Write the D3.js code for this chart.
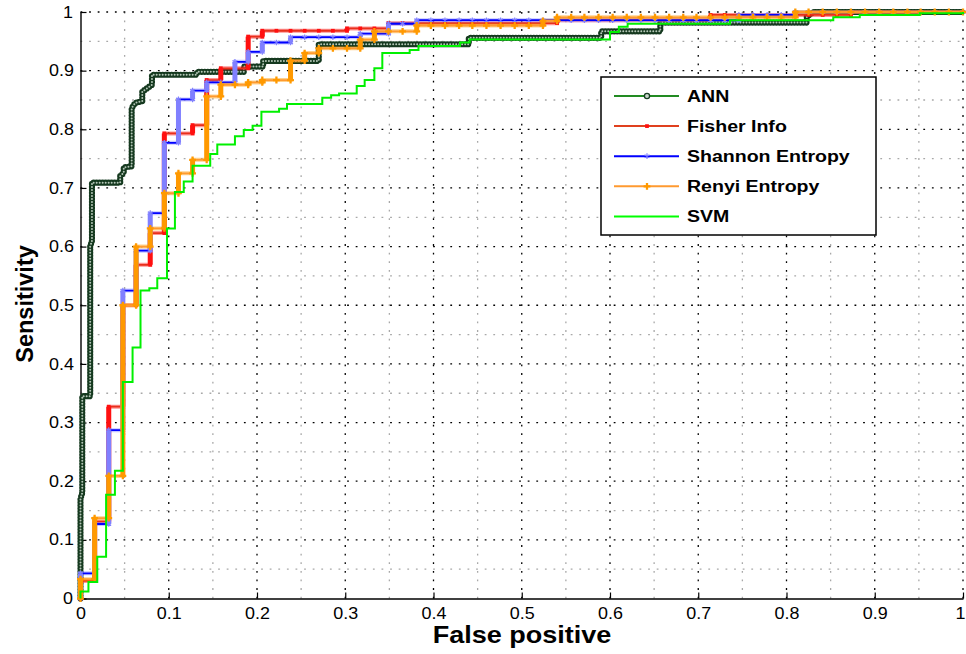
<!DOCTYPE html>
<meta charset="utf-8">
<head>
    <title>ROC curves</title>
    <style>
        body { margin: 0; background: #fff; }
        svg text { font-family: "Liberation Sans", Arial, sans-serif; }
        .sx { transform-box: fill-box; transform-origin: center; transform: scaleX(1.12); }
    </style>
</head>
<body>
<svg width="966" height="654"></svg>
<script src="https://d3js.org/d3.v7.min.js"></script>
<script>

    //axis ticks
    var xTicks = [0, 0.1, 0.2, 0.3, 0.4, 0.5, 0.6, 0.7, 0.8, 0.9, 1];
    var yTicks = [0, 0.1, 0.2, 0.3, 0.4, 0.5, 0.6, 0.7, 0.8, 0.9, 1];
    var minorTicks = [0.05, 0.15, 0.25, 0.35, 0.45, 0.55, 0.65, 0.75, 0.85, 0.95];

    var seriesNames = ["ANN", "Fisher Info", "Shannon Entropy", "Renyi Entropy", "SVM"];

    //ROC points [false positive, sensitivity]
    var ann = [[0,0],[0,0.17],[0.002,0.18],[0.002,0.345],[0.011,0.345],[0.011,0.6],[0.013,0.61],[0.013,0.709],
        [0.045,0.709],[0.045,0.72],[0.049,0.726],[0.049,0.735],[0.058,0.737],[0.058,0.836],[0.062,0.845],
        [0.07,0.848],[0.07,0.864],[0.081,0.876],[0.081,0.893],[0.132,0.893],[0.132,0.898],[0.185,0.898],
        [0.185,0.907],[0.207,0.907],[0.207,0.9165],[0.27,0.9165],[0.27,0.945],[0.44,0.945],[0.44,0.956],
        [0.59,0.956],[0.59,0.967],[0.657,0.967],[0.657,0.982],[0.823,0.982],[0.823,0.992],[0.83,1],[1,1]];

    var fisher = [[0,0],[0,0.03],[0.016,0.03],[0.016,0.131],[0.032,0.131],[0.032,0.327],[0.048,0.327],[0.048,0.5],
        [0.063,0.5],[0.063,0.569],[0.079,0.569],[0.079,0.623],[0.095,0.623],[0.095,0.793],[0.111,0.793],[0.127,0.793],
        [0.127,0.807],[0.143,0.807],[0.143,0.884],[0.159,0.884],[0.159,0.904],[0.175,0.904],[0.19,0.904],[0.19,0.958],
        [0.206,0.958],[0.206,0.968],[0.222,0.968],[0.238,0.968],[0.254,0.968],[0.27,0.968],[0.286,0.968],[0.302,0.968],
        [0.302,0.972],[0.317,0.972],[0.333,0.972],[0.349,0.972],[0.349,0.981],[0.365,0.981],[0.381,0.981],[0.397,0.981],
        [0.413,0.981],[0.429,0.981],[0.444,0.981],[0.46,0.981],[0.476,0.981],[0.492,0.981],[0.508,0.981],[0.524,0.981],
        [0.54,0.981],[0.54,0.986],[0.556,0.986],[0.571,0.986],[0.587,0.986],[0.603,0.986],[0.619,0.986],[0.635,0.986],
        [0.651,0.986],[0.667,0.986],[0.683,0.986],[0.698,0.986],[0.714,0.986],[0.714,0.995],[0.73,0.995],[0.746,0.995],
        [0.762,0.995],[0.778,0.995],[0.794,0.995],[0.81,0.995],[0.825,0.995],[0.841,0.995],[0.857,0.995],[0.873,0.995],
        [0.873,1],[0.889,1],[0.905,1],[0.921,1],[0.937,1],[0.952,1],[0.968,1],[0.984,1],[1,1]];

    var shannon = [[0,0],[0,0.043],[0.016,0.043],[0.016,0.127],[0.032,0.127],[0.032,0.287],[0.048,0.287],[0.048,0.525],
        [0.063,0.525],[0.063,0.593],[0.079,0.593],[0.079,0.657],[0.095,0.657],[0.095,0.777],[0.111,0.777],[0.111,0.851],
        [0.127,0.851],[0.127,0.866],[0.143,0.866],[0.143,0.88],[0.159,0.88],[0.175,0.88],[0.175,0.915],[0.19,0.915],
        [0.19,0.932],[0.206,0.932],[0.206,0.948],[0.222,0.948],[0.238,0.948],[0.238,0.957],[0.254,0.957],[0.27,0.957],
        [0.286,0.957],[0.302,0.957],[0.317,0.957],[0.317,0.963],[0.333,0.963],[0.349,0.963],[0.349,0.98],[0.365,0.98],
        [0.381,0.98],[0.381,0.986],[0.397,0.986],[0.413,0.986],[0.429,0.986],[0.444,0.986],[0.46,0.986],[0.476,0.986],
        [0.492,0.986],[0.508,0.986],[0.524,0.986],[0.54,0.986],[0.556,0.986],[0.571,0.986],[0.587,0.986],[0.603,0.986],
        [0.619,0.986],[0.635,0.986],[0.651,0.986],[0.667,0.986],[0.683,0.986],[0.698,0.986],[0.714,0.986],[0.73,0.986],
        [0.746,0.986],[0.746,0.995],[0.762,0.995],[0.778,0.995],[0.794,0.995],[0.81,0.995],[0.81,1],[0.825,1],
        [0.841,1],[0.857,1],[0.873,1],[0.889,1],[0.905,1],[0.921,1],[0.937,1],[0.952,1],[0.968,1],[0.984,1],[1,1]];

    var renyi = [[0,0],[0,0.033],[0.016,0.033],[0.016,0.137],[0.032,0.137],[0.032,0.209],[0.048,0.209],[0.048,0.5],
        [0.063,0.5],[0.063,0.6],[0.079,0.6],[0.079,0.631],[0.095,0.631],[0.095,0.691],[0.111,0.691],[0.111,0.725],
        [0.127,0.725],[0.127,0.748],[0.143,0.748],[0.143,0.856],[0.159,0.856],[0.159,0.876],[0.175,0.876],[0.19,0.876],
        [0.19,0.88],[0.206,0.88],[0.206,0.884],[0.222,0.884],[0.238,0.884],[0.238,0.917],[0.254,0.917],[0.254,0.93],
        [0.27,0.93],[0.27,0.938],[0.286,0.938],[0.302,0.938],[0.317,0.938],[0.317,0.953],[0.333,0.953],[0.333,0.967],
        [0.349,0.967],[0.365,0.967],[0.381,0.967],[0.381,0.977],[0.397,0.977],[0.413,0.977],[0.429,0.977],[0.444,0.977],
        [0.46,0.977],[0.476,0.977],[0.492,0.977],[0.508,0.977],[0.524,0.977],[0.524,0.985],[0.54,0.985],[0.54,0.991],
        [0.556,0.991],[0.571,0.991],[0.587,0.991],[0.603,0.991],[0.619,0.991],[0.635,0.991],[0.651,0.991],[0.667,0.991],
        [0.683,0.991],[0.698,0.991],[0.714,0.991],[0.73,0.991],[0.746,0.991],[0.762,0.991],[0.778,0.991],[0.794,0.991],
        [0.81,0.991],[0.81,1],[0.825,1],[0.841,1],[0.857,1],[0.873,1],[0.889,1],[0.905,1],[0.921,1],[0.937,1],
        [0.952,1],[0.968,1],[0.984,1],[1,1]];

    var svm = [[0,0],[0,0.012],[0.009,0.012],[0.009,0.028],[0.019,0.028],[0.019,0.071],[0.029,0.071],[0.029,0.177],
        [0.039,0.177],[0.039,0.218],[0.048,0.218],[0.048,0.369],[0.059,0.369],[0.059,0.428],[0.068,0.428],[0.068,0.525],
        [0.078,0.525],[0.078,0.529],[0.087,0.529],[0.087,0.546],[0.098,0.546],[0.098,0.631],[0.107,0.631],[0.107,0.693],
        [0.117,0.693],[0.117,0.711],[0.127,0.711],[0.127,0.738],[0.147,0.738],[0.147,0.758],[0.155,0.758],[0.155,0.774],
        [0.175,0.774],[0.175,0.788],[0.185,0.788],[0.185,0.799],[0.195,0.799],[0.195,0.806],[0.205,0.806],[0.205,0.83],
        [0.225,0.83],[0.225,0.835],[0.234,0.835],[0.234,0.843],[0.274,0.843],[0.274,0.854],[0.284,0.854],[0.284,0.858],
        [0.293,0.858],[0.293,0.861],[0.313,0.861],[0.313,0.874],[0.322,0.874],[0.322,0.884],[0.333,0.884],[0.333,0.904],
        [0.342,0.904],[0.342,0.93],[0.373,0.93],[0.373,0.935],[0.383,0.935],[0.383,0.942],[0.43,0.942],[0.43,0.948],
        [0.441,0.948],[0.441,0.953],[0.6,0.953],[0.6,0.966],[0.61,0.966],[0.61,0.975],[0.62,0.975],[0.62,0.98],
        [0.736,0.98],[0.736,0.986],[0.853,0.986],[0.853,0.991],[0.883,0.991],[0.883,0.995],[0.951,0.995],[0.951,0.998],
        [1,0.998],[1,1]];

    var svg = d3.select("svg"),
            width = +svg.attr("width"),
            height = +svg.attr("height");

    var x = d3.scaleLinear().domain([0, 1]).range([80.5, 963]);
    var y = d3.scaleLinear().domain([0, 1]).range([598.5, 12]);

    //dotted grid, grey minor then black major
    var grid = svg.append("g");
    function vgrid(vals, col) {
        grid.append("g").selectAll("line").data(vals).enter().append("line")
                .attr("x1", function(d) { return x(d); }).attr("x2", function(d) { return x(d); })
                .attr("y1", y(0)).attr("y2", y(1))
                .attr("stroke", col).attr("stroke-width", 1.3).attr("stroke-dasharray", "1.8 6.8");
    }
    function hgrid(vals, col) {
        grid.append("g").selectAll("line").data(vals).enter().append("line")
                .attr("y1", function(d) { return y(d); }).attr("y2", function(d) { return y(d); })
                .attr("x1", x(0)).attr("x2", x(1))
                .attr("stroke", col).attr("stroke-width", 1.3).attr("stroke-dasharray", "1.8 6.8");
    }
    vgrid(minorTicks, "#a8a8a8");
    hgrid(minorTicks, "#a8a8a8");
    vgrid(xTicks.slice(1), "#000");
    hgrid(yTicks.slice(1), "#000");

    //axes
    var fmt = d3.format("~g");
    var xAxis = svg.append("g")
            .attr("transform", "translate(0," + y(0) + ")")
            .call(d3.axisBottom(x).tickValues(xTicks).tickFormat(fmt)
                    .tickSize(-6).tickSizeOuter(0).tickPadding(9));
    var yAxis = svg.append("g")
            .attr("transform", "translate(" + x(0) + ",0)")
            .call(d3.axisLeft(y).tickValues(yTicks).tickFormat(fmt)
                    .tickSize(-6).tickSizeOuter(0).tickPadding(8));
    [xAxis, yAxis].forEach(function(a) {
        a.attr("font-size", 16).attr("font-family", "Liberation Sans, Arial, sans-serif");
        a.select(".domain").attr("stroke", "#000").attr("stroke-width", 1.4);
        a.selectAll(".tick line").attr("stroke", "#000").attr("stroke-width", 1.2);
        a.selectAll(".tick text").attr("fill", "#000").attr("class", "sx");
    });
    //keep the last label inside the picture
    xAxis.selectAll(".tick text").filter(function(d) { return d === 1; }).attr("dx", -3);

    //axis titles
    svg.append("text")
            .attr("transform", "translate(522,643) scale(1.15,1)")
            .attr("text-anchor", "middle")
            .attr("font-size", 23.5).attr("font-weight", "bold")
            .text("False positive");
    svg.append("text")
            .attr("transform", "translate(33,304) rotate(-90)")
            .attr("text-anchor", "middle")
            .attr("font-size", 23.5).attr("font-weight", "bold")
            .text("Sensitivity");

    var line = d3.line()
            .x(function(d) { return x(d[0]); })
            .y(function(d) { return y(d[1]); });

    var plot = svg.append("g");

    //ANN: chain of small rings
    plot.append("path").datum(ann).attr("d", line)
            .attr("fill", "none").attr("stroke", "#1f5a2c").attr("stroke-width", 1.5);
    plot.append("path").datum(ann).attr("d", line)
            .attr("fill", "none").attr("stroke", "#15391f").attr("stroke-width", 6.2)
            .attr("stroke-linecap", "round").attr("stroke-dasharray", "0 3");
    plot.append("path").datum(ann).attr("d", line)
            .attr("fill", "none").attr("stroke", "#b4c6b7").attr("stroke-width", 2)
            .attr("stroke-linecap", "round").attr("stroke-dasharray", "0 3");

    //vertical runs of a step curve, where the markers pile up
    function verticals(pts) {
        var out = [];
        for (var i = 1; i < pts.length; i++) {
            if (pts[i][0] === pts[i - 1][0] && pts[i][1] !== pts[i - 1][1]) out.push([pts[i - 1], pts[i]]);
        }
        return out;
    }

    function stepSeries(pts, lineCol, markCol, symbol, symSize, filled) {
        var g = plot.append("g");
        g.append("path").datum(pts).attr("d", line)
                .attr("fill", "none").attr("stroke", markCol).attr("stroke-opacity", 0.45).attr("stroke-width", 4);
        g.append("path").datum(pts).attr("d", line)
                .attr("fill", "none").attr("stroke", lineCol).attr("stroke-width", 1.8);
        g.selectAll(".vb").data(verticals(pts)).enter().append("line")
                .attr("x1", function(d) { return x(d[0][0]); }).attr("x2", function(d) { return x(d[1][0]); })
                .attr("y1", function(d) { return y(d[0][1]); }).attr("y2", function(d) { return y(d[1][1]); })
                .attr("stroke", markCol).attr("stroke-width", 5);
        g.selectAll(".mk").data(pts).enter().append("path")
                .attr("transform", function(d) { return "translate(" + x(d[0]) + "," + y(d[1]) + ")"; })
                .attr("d", d3.symbol().type(symbol).size(symSize))
                .attr("fill", filled ? markCol : "none")
                .attr("stroke", filled ? "none" : markCol).attr("stroke-width", 1.2);
    }

    stepSeries(fisher, "#e8301c", "#ff1010", d3.symbolSquare, 14, true);
    stepSeries(shannon, "#0000ff", "#8080ff", d3.symbolAsterisk, 22, false);
    stepSeries(renyi, "#ff9a30", "#ff9900", d3.symbolCross, 26, true);

    plot.append("path").datum(svm).attr("d", line)
            .attr("fill", "none").attr("stroke", "#00f000").attr("stroke-width", 2);

    //legend
    var legendCols = ["#228b22", "#e0401e", "#0000ff", "#ff9a30", "#00ff00"];
    var legend = svg.append("g");
    legend.append("rect")
            .attr("x", 601).attr("y", 77).attr("width", 275).attr("height", 158)
            .attr("fill", "#fff").attr("stroke", "#000").attr("stroke-width", 1.5);
    var rows = legend.selectAll(".row").data(seriesNames).enter().append("g")
            .attr("transform", function(d, i) { return "translate(0," + (96 + i * 30.1) + ")"; });
    rows.append("line")
            .attr("x1", 614).attr("x2", 679).attr("y1", 0).attr("y2", 0)
            .attr("stroke", function(d, i) { return legendCols[i]; }).attr("stroke-width", 2);
    rows.append("text")
            .attr("transform", "translate(687,6) scale(1.15,1)")
            .attr("font-size", 17).attr("font-weight", "bold")
            .text(function(d) { return d; });
    legend.append("circle").attr("cx", 647).attr("cy", 96).attr("r", 2.6)
            .attr("fill", "#c9d6cb").attr("stroke", "#173d22").attr("stroke-width", 1.3);
    legend.append("path").attr("transform", "translate(647," + (96 + 30.1) + ")")
            .attr("d", d3.symbol().type(d3.symbolSquare).size(14)).attr("fill", "#ff1010");
    legend.append("path").attr("transform", "translate(647," + (96 + 60.2) + ")")
            .attr("d", d3.symbol().type(d3.symbolAsterisk).size(22))
            .attr("fill", "none").attr("stroke", "#8080ff").attr("stroke-width", 1.2);
    legend.append("path").attr("transform", "translate(647," + (96 + 90.3) + ")")
            .attr("d", d3.symbol().type(d3.symbolCross).size(26)).attr("fill", "#ff9900");
</script>
</body>
